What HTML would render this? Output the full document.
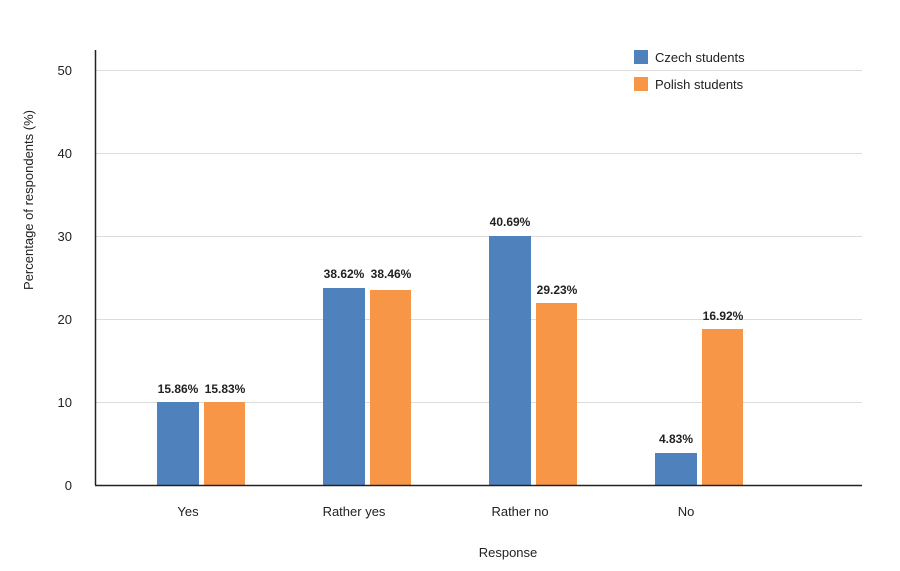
<!DOCTYPE html>
<html><head><meta charset="utf-8"><style>
body{margin:0;background:#fff;}
svg{display:block;font-family:"Liberation Sans",Arial,sans-serif;}
</style></head><body>
<svg width="900" height="571" viewBox="0 0 900 571" xmlns="http://www.w3.org/2000/svg">
<rect width="900" height="571" fill="#fff"/>
<g stroke="#dcdcdc" stroke-width="1">
<line x1="95" y1="70.5" x2="862" y2="70.5"/>
<line x1="95" y1="153.5" x2="862" y2="153.5"/>
<line x1="95" y1="236.5" x2="862" y2="236.5"/>
<line x1="95" y1="319.5" x2="862" y2="319.5"/>
<line x1="95" y1="402.5" x2="862" y2="402.5"/>
</g>
<g font-size="13" fill="#222" text-anchor="end">
<text x="72" y="75">50</text><text x="72" y="158">40</text><text x="72" y="241">30</text>
<text x="72" y="324">20</text><text x="72" y="407">10</text><text x="72" y="490">0</text>
</g>
<g fill="#4f81bd">
<rect x="157" y="402" width="42" height="83"/>
<rect x="323" y="288" width="42" height="197"/>
<rect x="489" y="236" width="42" height="249"/>
<rect x="655" y="453" width="42" height="32"/>
</g>
<g fill="#f79646">
<rect x="204" y="402" width="41" height="83"/>
<rect x="370" y="290" width="41" height="195"/>
<rect x="536" y="303" width="41" height="182"/>
<rect x="702" y="329" width="41" height="156"/>
</g>
<line x1="95.5" y1="50" x2="95.5" y2="485" stroke="#222" stroke-width="1.5"/>
<line x1="95" y1="485.5" x2="862" y2="485.5" stroke="#222" stroke-width="1.5"/>
<g font-size="12" font-weight="bold" fill="#222" text-anchor="middle">
<text x="178" y="393">15.86%</text><text x="225" y="393">15.83%</text>
<text x="344" y="278">38.62%</text><text x="391" y="278">38.46%</text>
<text x="510" y="226">40.69%</text><text x="557" y="294">29.23%</text>
<text x="676" y="443">4.83%</text><text x="723" y="320">16.92%</text>
</g>
<g font-size="13" fill="#222" text-anchor="middle">
<text x="188" y="516">Yes</text><text x="354" y="516">Rather yes</text>
<text x="520" y="516">Rather no</text><text x="686" y="516">No</text>
<text x="508" y="557">Response</text>
<text transform="translate(33,200) rotate(-90)">Percentage of respondents (%)</text>
</g>
<rect x="634" y="50" width="14" height="14" fill="#4f81bd"/>
<rect x="634" y="77" width="14" height="14" fill="#f79646"/>
<g font-size="13" fill="#222">
<text x="655" y="62">Czech students</text>
<text x="655" y="89">Polish students</text>
</g>
</svg>
</body></html>
